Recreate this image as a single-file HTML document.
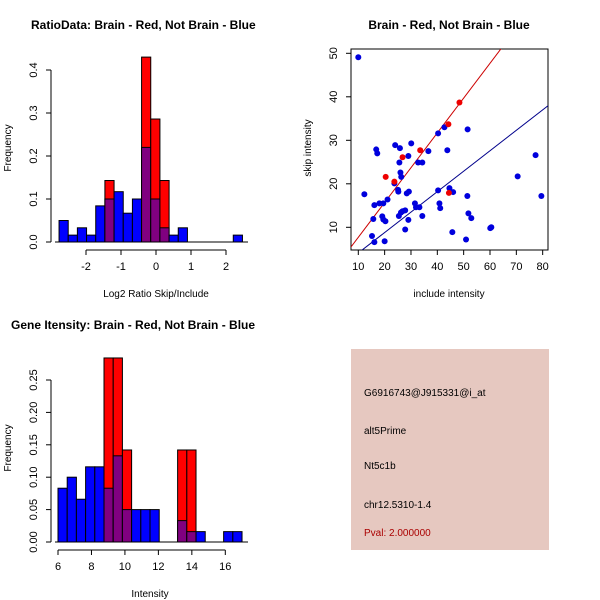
<!DOCTYPE html>
<html><head><meta charset="utf-8"><style>
body{margin:0;background:#fff}
svg{display:block;font-family:"Liberation Sans",sans-serif}
</style></head><body>
<svg id="c" width="600" height="600" viewBox="0 0 600 600">
<rect width="600" height="600" fill="#fff"/>
</svg>
<script>
// ---- Ratio histogram data ----
const ratioBinStart = -2.77;
const ratioBinWidth = 0.262;
const ratioBlue = [0.05,0.016,0.033,0.016,0.084,0.1,0.117,0.067,0.1,0.22,0.1,0.033,0.016,0.033,0,0,0,0,0,0.016];
const ratioRed  = [0,0,0,0,0,0.143,0,0,0,0.43,0.286,0.143,0,0,0,0,0,0,0,0];
const ratioXTicks = [-2,-1,0,1,2];
const ratioYTicks = [0,0.1,0.2,0.3,0.4];
// ---- Intensity histogram data ----
const intBinStart = 6.0;
const intBinWidth = 0.55;
const intBlue = [0.083,0.1,0.066,0.116,0.116,0.083,0.133,0.05,0.05,0.05,0.05,0,0,0.033,0.016,0.016,0,0,0.016,0.016];
const intRed  = [0,0,0,0,0,0.284,0.284,0.142,0,0,0,0,0,0.142,0.142,0,0,0,0,0];
const intXTicks = [6,8,10,12,14,16];
const intYTicks = [0,0.05,0.10,0.15,0.20,0.25];
// ---- Scatter data ----
const blueX = [10,12.3,16.1,16.1,15.2,15.7,16.8,17.2,18,19.5,19.1,19.5,20.3,20,21.1,23.7,24,25.1,25.2,25.6,26,25.8,26.3,25.4,26.2,26.8,27.8,27.8,28.4,29.2,29,29,30.1,31.5,31.9,33.2,32.7,34.3,34.3,36.6,40.3,40.3,40.8,41.1,42.7,43.8,44.6,46,45.7,50.9,51.5,51.4,51.8,52.9,60.1,60.5,70.5,77.3,79.5];
const blueY = [49.1,17.6,15.1,6.6,8.0,11.9,27.9,27.0,15.5,15.5,12.5,11.8,11.4,6.8,16.4,20.1,28.9,18.6,18.2,24.9,22.6,28.2,21.6,12.6,13.4,13.7,13.9,9.5,17.8,18.2,26.4,11.7,29.3,15.5,14.6,14.6,24.9,24.9,12.6,27.5,31.6,18.5,15.5,14.4,33,27.7,19,18.1,8.9,7.2,32.5,17.2,13.2,12.1,9.8,10,21.7,26.6,17.2];
const redX = [20.4,23.7,26.8,33.5,44.2,48.4,44.4];
const redY = [21.6,20.5,26.1,27.7,33.7,38.7,17.9];
const redFit = [-0.3,0.8];   // intercept, slope
const blueFit = [-0.6,0.47];
const scXTicks = [10,20,30,40,50,60,70,80];
const scYTicks = [10,20,30,40,50];

const svg=document.getElementById('c');
const NS='http://www.w3.org/2000/svg';
function mk(tag,attrs,parent){const e=document.createElementNS(NS,tag);for(const k in attrs)e.setAttribute(k,attrs[k]);(parent||svg).appendChild(e);return e;}
function txt(s,x,y,opts,parent){const t=mk('text',Object.assign({x:x,y:y,'font-size':11,fill:'#000'},opts||{}),parent);t.textContent=s;return t;}

function hist(name,binStart,bw,blue,red,xt,yt,xs,ys,yAxisX,xAxisY,xFrom,xTo,decimals){
  const g=mk('g',{});
  
  
  for(let i=0;i<blue.length;i++){
    const x0=xs(binStart+i*bw),x1=xs(binStart+(i+1)*bw);
    const b=blue[i],r=red[i];
    if(r>0){
      const rr=mk('rect',{x:x0,y:ys(r),width:x1-x0,height:ys(0)-ys(r),fill:'#ff0000',stroke:'#000','stroke-width':1},g);
      
      
    }
    if(b>0){
      const bb=mk('rect',{x:x0,y:ys(b),width:x1-x0,height:ys(0)-ys(b),fill:r>0?'#800080':'#0000ff',stroke:'#000','stroke-width':1},g);
      
      
    }
  }
  mk('line',{x1:yAxisX,x2:yAxisX,y1:ys(yt[0]),y2:ys(yt[yt.length-1]),stroke:'#000'},g);
  yt.forEach(v=>{const y=ys(v);mk('line',{x1:yAxisX-5,x2:yAxisX,y1:y,y2:y,stroke:'#000'},g);
    txt(v.toFixed(decimals),0,0,{transform:`translate(${yAxisX-14},${y}) rotate(-90)`,'text-anchor':'middle'},g);});
  mk('line',{x1:xs(xt[0]),x2:xs(xt[xt.length-1]),y1:xAxisY,y2:xAxisY,stroke:'#000'},g);
  xt.forEach(v=>{const x=xs(v);mk('line',{x1:x,x2:x,y1:xAxisY,y2:xAxisY+5,stroke:'#000'},g);
    txt(String(v),x,xAxisY+20,{'text-anchor':'middle'},g);});
  mk('line',{x1:xFrom,x2:xTo,y1:ys(0),y2:ys(0),stroke:'#000'},g);
  return g;
}
// Ratio
const rxs=v=>156+v*35, rys=v=>242-v*430;
hist('ratio-histogram',ratioBinStart,ratioBinWidth,ratioBlue,ratioRed,ratioXTicks,ratioYTicks,rxs,rys,51,250,55,248,1);
txt('RatioData: Brain - Red, Not Brain - Blue',31,29,{'font-weight':'bold','font-size':12});
txt('Log2 Ratio Skip/Include',156,297,{'text-anchor':'middle','font-size':10});
txt('Frequency',0,0,{transform:'translate(11,148) rotate(-90)','text-anchor':'middle','font-size':10});
// Intensity
const ixs=v=>58+(v-6)*16.73, iys=v=>542-v*648;
hist('intensity-histogram',intBinStart,intBinWidth,intBlue,intRed,intXTicks,intYTicks,ixs,iys,51,550,55,248,2);
txt('Gene Itensity: Brain - Red, Not Brain - Blue',11,329,{'font-weight':'bold','font-size':12});
txt('Intensity',150,597,{'text-anchor':'middle','font-size':10});
txt('Frequency',0,0,{transform:'translate(11,448) rotate(-90)','text-anchor':'middle','font-size':10});

// Scatter
const sxs=v=>358.3+(v-10)*2.634, sys=v=>227.3-(v-10)*4.35;
const sg=mk('g',{});


const clip=mk('clipPath',{id:'scclip'},sg);mk('rect',{x:351,y:49,width:197,height:201},clip);
mk('rect',{x:351,y:49,width:197,height:201,fill:'none',stroke:'#000'},sg);
[[redFit,'#cc0000'],[blueFit,'#00008b']].forEach(([f,c])=>{
  const l=mk('line',{x1:sxs(0),y1:sys(f[0]),x2:sxs(90),y2:sys(f[0]+f[1]*90),stroke:c,'clip-path':'url(#scclip)'},sg);
  
  
});
blueX.forEach((x,i)=>{const p=mk('circle',{cx:sxs(x),cy:sys(blueY[i]),r:3,fill:'#0000dd'},sg);
  
  });
redX.forEach((x,i)=>{const p=mk('circle',{cx:sxs(x),cy:sys(redY[i]),r:3,fill:'#ee0000'},sg);
  
  });
scXTicks.forEach(v=>{const x=sxs(v);mk('line',{x1:x,x2:x,y1:250,y2:255,stroke:'#000'},sg);txt(String(v),x,270,{'text-anchor':'middle'},sg);});
scYTicks.forEach(v=>{const y=sys(v);mk('line',{x1:346,x2:351,y1:y,y2:y,stroke:'#000'},sg);txt(String(v),0,0,{transform:`translate(337,${y}) rotate(-90)`,'text-anchor':'middle'},sg);});
txt('Brain - Red, Not Brain - Blue',449,29,{'font-weight':'bold','font-size':12,'text-anchor':'middle'});
txt('include intensity',449,297,{'text-anchor':'middle','font-size':10});
txt('skip intensity',0,0,{transform:'translate(311,148) rotate(-90)','text-anchor':'middle','font-size':10});

// Info panel
const ig=mk('g',{});


mk('rect',{x:351,y:349,width:198,height:201,fill:'#e6c8c0'},ig);
txt('G6916743@J915331@i_at',364,396,{'font-size':10},ig);
txt('alt5Prime',364,434,{'font-size':10},ig);
txt('Nt5c1b',364,469,{'font-size':10},ig);
txt('chr12.5310-1.4',364,508,{'font-size':10},ig);
txt('Pval: 2.000000',364,536,{'font-size':10,fill:'#aa0000'},ig);
</script>
</body></html>
